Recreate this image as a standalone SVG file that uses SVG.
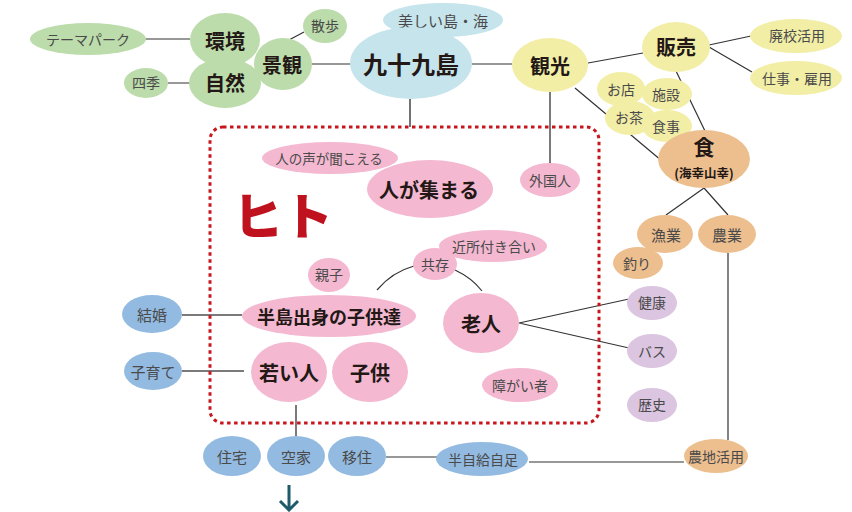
<svg xmlns="http://www.w3.org/2000/svg" width="852" height="512" viewBox="0 0 852 512">
<style>
.g{fill:#bcdcab}.c{fill:#c6e4eb}.y{fill:#f2eea6}.o{fill:#edbf8f}.p{fill:#f4b8d1}.l{fill:#dbc5e0}.b{fill:#93bbe2}
text{font-family:"Noto Sans CJK JP","Noto Sans",sans-serif;text-anchor:middle;dominant-baseline:central}
.s{font-size:14px;fill:#4a4a4a}
.m{font-size:20px;font-weight:700;fill:#231815}
.ln{stroke:#333;stroke-width:1.2;fill:none}
.gl{stroke:#7a7a7a;stroke-width:2;fill:none}
</style>
<rect width="852" height="512" fill="#fff"/>
<g id="connectors">
<path class="ln" d="M145 39H190M168 83H190M289 40L304 32M312 64H351M472 64H512M588 63L643 53M575 88L662 161M709 45L751 36M709 47L752 72M676 71L705 131M704 188L666 215M704 188L728 215M728 253V440M529 462H684M386 457H437M519 323L629 299M519 323L629 348M377 290Q392 272 414 266M455 270Q472 278 482 291"/>
<path stroke="#444" stroke-width="1.5" fill="none" d="M410 99V127"/>
<path class="gl" d="M550 92V163M296 405V436M182 315H242M182 371H244"/>
</g>
<rect id="hito-box" x="210" y="127" width="389" height="296" rx="13" fill="none" stroke="#c8161e" stroke-width="3" stroke-dasharray="3.5 3.5"/>
<text id="hito" x="283" y="213" style="font-size:50px;font-weight:900;fill:#c0121e">ヒト</text>
<g id="n-theme"><ellipse class="g" cx="88" cy="39" rx="58" ry="16"/><text class="s" x="88" y="39">テーマパーク</text></g>
<g id="n-kankyo"><ellipse class="g" cx="225" cy="40" rx="35" ry="27"/><text class="m" x="225" y="40">環境</text></g>
<g id="n-shizen"><ellipse class="g" cx="225" cy="83" rx="36" ry="25"/><text class="m" x="225" y="82">自然</text></g>
<g id="n-keikan"><ellipse class="g" cx="283" cy="64" rx="29" ry="26"/><text class="m" x="282" y="64">景観</text></g>
<g id="n-sanpo"><ellipse class="g" cx="325" cy="26" rx="22" ry="17"/><text class="s" x="325" y="25">散歩</text></g>
<g id="n-shiki"><ellipse class="g" cx="146" cy="83" rx="22" ry="15"/><text class="s" x="146" y="82">四季</text></g>
<g id="n-utsukushii"><ellipse class="c" cx="443" cy="20" rx="60" ry="17"/><text class="s" x="443" y="20" style="font-size:15px">美しい島・海</text></g>
<g id="n-99"><ellipse class="c" cx="411" cy="63" rx="61" ry="36"/><text class="m" x="411" y="63" style="font-size:24px">九十九島</text></g>
<g id="n-kanko"><ellipse class="y" cx="550" cy="65" rx="38" ry="27"/><text class="m" x="550" y="65">観光</text></g>
<g id="n-hanbai"><ellipse class="y" cx="676" cy="47" rx="34" ry="25"/><text class="m" x="676" y="46">販売</text></g>
<g id="n-haikou"><ellipse class="y" cx="796" cy="36" rx="46" ry="17"/><text class="s" x="797" y="35">廃校活用</text></g>
<g id="n-shigoto"><ellipse class="y" cx="796" cy="78" rx="46" ry="17"/><text class="s" x="797" y="78">仕事・雇用</text></g>
<g id="n-omise"><ellipse class="y" cx="621" cy="89" rx="24" ry="17"/><text class="s" x="621" y="89">お店</text></g>
<g id="n-shisetsu"><ellipse class="y" cx="667" cy="94" rx="25" ry="16"/><text class="s" x="666" y="94">施設</text></g>
<g id="n-ocha"><ellipse class="y" cx="630" cy="118" rx="25" ry="17"/><text class="s" x="629" y="117">お茶</text></g>
<g id="n-shokuji"><ellipse class="y" cx="667" cy="126" rx="25" ry="16"/><text class="s" x="666" y="126">食事</text></g>
<g id="n-shoku"><ellipse class="o" cx="704" cy="159" rx="46" ry="29"/><text class="m" x="704" y="146" style="font-size:21px">食</text><text x="704" y="172" style="font-size:12.5px;font-weight:700;fill:#231815">(海幸山幸)</text></g>
<g id="n-gyogyo"><ellipse class="o" cx="665" cy="234" rx="28" ry="19"/><text class="s" x="666" y="234" style="font-size:15px">漁業</text></g>
<g id="n-nougyou"><ellipse class="o" cx="727" cy="234" rx="29" ry="19"/><text class="s" x="727" y="234" style="font-size:15px">農業</text></g>
<g id="n-tsuri"><ellipse class="o" cx="638" cy="263" rx="25" ry="16"/><text class="s" x="637" y="263">釣り</text></g>
<g id="n-nouchi"><ellipse class="o" cx="716" cy="456" rx="32" ry="17"/><text class="s" x="716" y="456">農地活用</text></g>
<g id="n-kenkou"><ellipse class="l" cx="652" cy="303" rx="25" ry="17"/><text class="s" x="652" y="302">健康</text></g>
<g id="n-bus"><ellipse class="l" cx="652" cy="351" rx="25" ry="17"/><text class="s" x="652" y="351">バス</text></g>
<g id="n-rekishi"><ellipse class="l" cx="652" cy="405" rx="25" ry="17"/><text class="s" x="652" y="404">歴史</text></g>
<g id="n-koe"><ellipse class="p" cx="330" cy="158" rx="68" ry="16"/><text class="s" x="329" y="158" style="font-size:13.5px">人の声が聞こえる</text></g>
<g id="n-atsumaru"><ellipse class="p" cx="430" cy="189" rx="63" ry="29"/><text class="m" x="429" y="189">人が集まる</text></g>
<g id="n-gaikoku"><ellipse class="p" cx="550" cy="180" rx="30" ry="17"/><text class="s" x="550" y="180">外国人</text></g>
<g id="n-kinjo"><ellipse class="p" cx="493" cy="246" rx="54" ry="16"/><text class="s" x="494" y="246">近所付き合い</text></g>
<g id="n-kyouzon"><ellipse class="p" cx="435" cy="264" rx="22" ry="16"/><text class="s" x="435" y="264">共存</text></g>
<g id="n-oyako"><ellipse class="p" cx="329" cy="275" rx="21" ry="17"/><text class="s" x="329" y="274">親子</text></g>
<g id="n-hantou"><ellipse class="p" cx="329" cy="316" rx="87" ry="21"/><text class="m" x="329" y="316" style="font-size:18px">半島出身の子供達</text></g>
<g id="n-roujin"><ellipse class="p" cx="481" cy="323" rx="38" ry="30"/><text class="m" x="481" y="323">老人</text></g>
<g id="n-shougai"><ellipse class="p" cx="520" cy="385" rx="38" ry="17"/><text class="s" x="520" y="385">障がい者</text></g>
<g id="n-wakai"><ellipse class="p" cx="289" cy="372" rx="38" ry="30"/><text class="m" x="289" y="372">若い人</text></g>
<g id="n-kodomo"><ellipse class="p" cx="370" cy="372" rx="38" ry="30"/><text class="m" x="370" y="372">子供</text></g>
<g id="n-kekkon"><ellipse class="b" cx="152" cy="314" rx="30" ry="19"/><text class="s" x="152" y="314" style="font-size:15px">結婚</text></g>
<g id="n-kosodate"><ellipse class="b" cx="153" cy="371" rx="29" ry="19"/><text class="s" x="153" y="371" style="font-size:15px">子育て</text></g>
<g id="n-jutaku"><ellipse class="b" cx="232" cy="456" rx="29" ry="20"/><text class="s" x="232" y="456" style="font-size:15px">住宅</text></g>
<g id="n-akiya"><ellipse class="b" cx="296" cy="456" rx="29" ry="20"/><text class="s" x="296" y="456" style="font-size:15px">空家</text></g>
<g id="n-iju"><ellipse class="b" cx="357" cy="456" rx="29" ry="20"/><text class="s" x="357" y="456" style="font-size:15px">移住</text></g>
<g id="n-hanjikyu"><ellipse class="b" cx="482" cy="459" rx="46" ry="17"/><text class="s" x="483" y="459">半自給自足</text></g>
<g id="arrow"><path d="M289 485V510M280 501L289 510L298 501" stroke="#1d5b6b" stroke-width="3" fill="none"/></g>
</svg>
